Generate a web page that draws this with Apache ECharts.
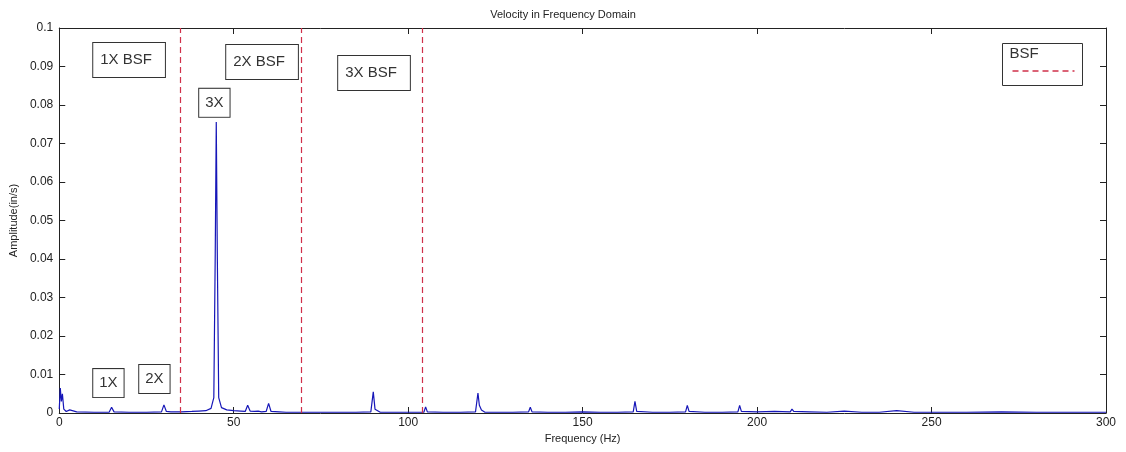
<!DOCTYPE html>
<html>
<head>
<meta charset="utf-8">
<script src="https://cdn.jsdelivr.net/npm/echarts@6/dist/echarts.min.js"></script>
<style>
  html, body { margin: 0; padding: 0; background: #fff; }
  #child1 { width: 1126px; height: 452px; }
</style>
</head>
<body>
<div id="child1"></div>
<script>
// spectrum
var freqHz = [0, 0.3, 0.6, 0.9, 1.3, 2, 3, 5, 10, 14.3, 15, 15.7, 20, 25, 29.3, 30, 30.7, 32, 35, 38, 40, 42, 43.5,
  44.3, 44.7, 45, 45.3, 45.7, 46.5, 48, 50, 52, 53.3, 54, 54.7, 56, 57, 58, 59.3, 60, 60.7, 63, 65, 70, 75, 80, 85,
  89.3, 90, 90.5, 91, 92, 95, 100, 104.5, 105, 105.5, 110, 115, 119.3, 120, 120.4, 121, 122, 125, 130, 134.5, 135,
  135.5, 140, 145, 150, 155, 160, 164.5, 165, 165.5, 170, 175, 179.5, 180, 180.5, 185, 190, 194.5, 195, 195.5, 200,
  205, 209.5, 210, 210.5, 215, 220, 225, 230, 235, 240, 245, 250, 260, 270, 280, 285, 290, 300];
var ampInS = [0.001, 0.0065, 0.003, 0.005, 0.001, 0.0004, 0.0008, 0.0003, 0.0002, 0.0002, 0.0015, 0.0003, 0.0002, 0.0002,
  0.0003, 0.0021, 0.0004, 0.0003, 0.0003, 0.0004, 0.0005, 0.0006, 0.0012,
  0.004, 0.041, 0.0756, 0.041, 0.004, 0.0014, 0.0008, 0.0006, 0.0005, 0.0004, 0.002, 0.0005, 0.0004, 0.0005, 0.0003,
  0.0004, 0.0025, 0.0004, 0.0003, 0.0002, 0.0002, 0.0002, 0.0002, 0.0002,
  0.0003, 0.0055, 0.001, 0.0007, 0.0002, 0.0002, 0.0002, 0.0002, 0.0016, 0.0003, 0.0002, 0.0002, 0.0003, 0.0052, 0.002,
  0.0008, 0.0002, 0.0002, 0.0002, 0.0003, 0.0015, 0.0003, 0.0002, 0.0002, 0.0003, 0.0002, 0.0002, 0.0003, 0.003, 0.0004,
  0.0002, 0.0002, 0.0003, 0.002, 0.0004, 0.0002, 0.0002, 0.0003, 0.002, 0.0004, 0.0003, 0.0004, 0.0003, 0.001, 0.0004,
  0.0003, 0.0002, 0.0005, 0.0002, 0.0002, 0.0006, 0.0002, 0.0002, 0.0002, 0.0003, 0.0002, 0.0002, 0.0002, 0.0002];
var bsfLines = [34.67, 69.33, 104];
// annotation boxes: text and top-left corner in data units (Hz, in/s)
var boxText = ['1X BSF', '2X BSF', '3X BSF', '3X', '1X', '2X'];
var boxX = [9.74, 47.85, 79.94, 40.11, 9.74, 22.92];
var boxY = [0.0961, 0.0956, 0.0927, 0.0842, 0.0114, 0.01247];

var pairs = freqHz.map(function (f, i) { return [f, ampInS[i]]; });
var myChart0 = echarts.init(document.getElementById('child1'));
var font = 'Liberation Sans, Arial, sans-serif';
var axisCommon = {
  type: 'value',
  axisLine: { show: true, onZero: false, lineStyle: { color: '#222', width: 1 } },
  axisTick: { show: true, inside: true, length: 6, lineStyle: { color: '#222' } },
  splitLine: { show: false },
  axisLabel: { color: '#222', fontFamily: font, fontSize: 12 }
};
var bsfRed = '#d0304a';

myChart0.setOption({
  animation: false,
  backgroundColor: '#fff',
  title: {
    text: 'Velocity in Frequency Domain',
    left: 'center', top: 4,
    textStyle: { fontFamily: font, fontSize: 11, fontWeight: 'normal', color: '#222' }
  },
  grid: { left: 59, right: 20, top: 28, bottom: 39 },
  xAxis: [
    Object.assign({}, axisCommon, {
      min: 0, max: 300, interval: 50, position: 'bottom',
      name: 'Frequency (Hz)', nameLocation: 'middle', nameGap: 20,
      nameTextStyle: { fontFamily: font, fontSize: 11, color: '#222' },
      axisLabel: { color: '#222', fontFamily: font, fontSize: 12, margin: 4 }
    }),
    Object.assign({}, axisCommon, {
      min: 0, max: 300, interval: 50, position: 'top', axisLabel: { show: false }
    })
  ],
  yAxis: [
    Object.assign({}, axisCommon, {
      min: 0, max: 0.1, interval: 0.01, position: 'left',
      name: 'Amplitude(in/s)', nameLocation: 'middle', nameGap: 38,
      nameTextStyle: { fontFamily: font, fontSize: 11, color: '#222' },
      axisLabel: { color: '#222', fontFamily: font, fontSize: 12, margin: 6 }
    }),
    Object.assign({}, axisCommon, {
      min: 0, max: 0.1, interval: 0.01, position: 'right', axisLabel: { show: false }
    })
  ],
  series: [{
    type: 'line',
    data: pairs,
    symbol: 'none',
    lineStyle: { color: '#1616b8', width: 1.2 },
    markLine: {
      silent: true,
      symbol: 'none',
      label: { show: false },
      lineStyle: { color: bsfRed, type: [6, 4], width: 1.2 },
      data: bsfLines.map(function (v) { return { xAxis: v }; })
    }
  }]
});

// text boxes anchored to data coordinates
var gfx = boxText.map(function (t, i) {
  var p = myChart0.convertToPixel({ xAxisIndex: 0, yAxisIndex: 0 }, [boxX[i], boxY[i]]);
  var wide = t.length > 2;
  return {
    type: 'text', x: p[0], y: p[1],
    style: {
      text: t, fontFamily: font, fontSize: 15, lineHeight: 18, fill: '#333',
      align: 'left', verticalAlign: 'top',
      borderColor: '#333', borderWidth: 1,
      padding: wide ? [8, 13, 8, 7] : [5, 6, 5, 6],
      backgroundColor: '#fff'
    }
  };
});
// BSF legend box
gfx.push({
  type: 'group', right: 43, top: 43,
  children: [
    { type: 'rect', shape: { x: 0, y: 0, width: 80, height: 42 }, style: { fill: '#fff', stroke: '#333', lineWidth: 1 } },
    { type: 'text', x: 7, y: 3, style: { text: 'BSF', fontFamily: font, fontSize: 15, fill: '#333' } },
    { type: 'line', z: 10, shape: { x1: 10, y1: 27.5, x2: 72, y2: 27.5 }, style: { stroke: bsfRed, fill: null, lineWidth: 1.5, lineDash: [6, 4] } }
  ]
});
myChart0.setOption({ graphic: gfx });
</script>
</body>
</html>
